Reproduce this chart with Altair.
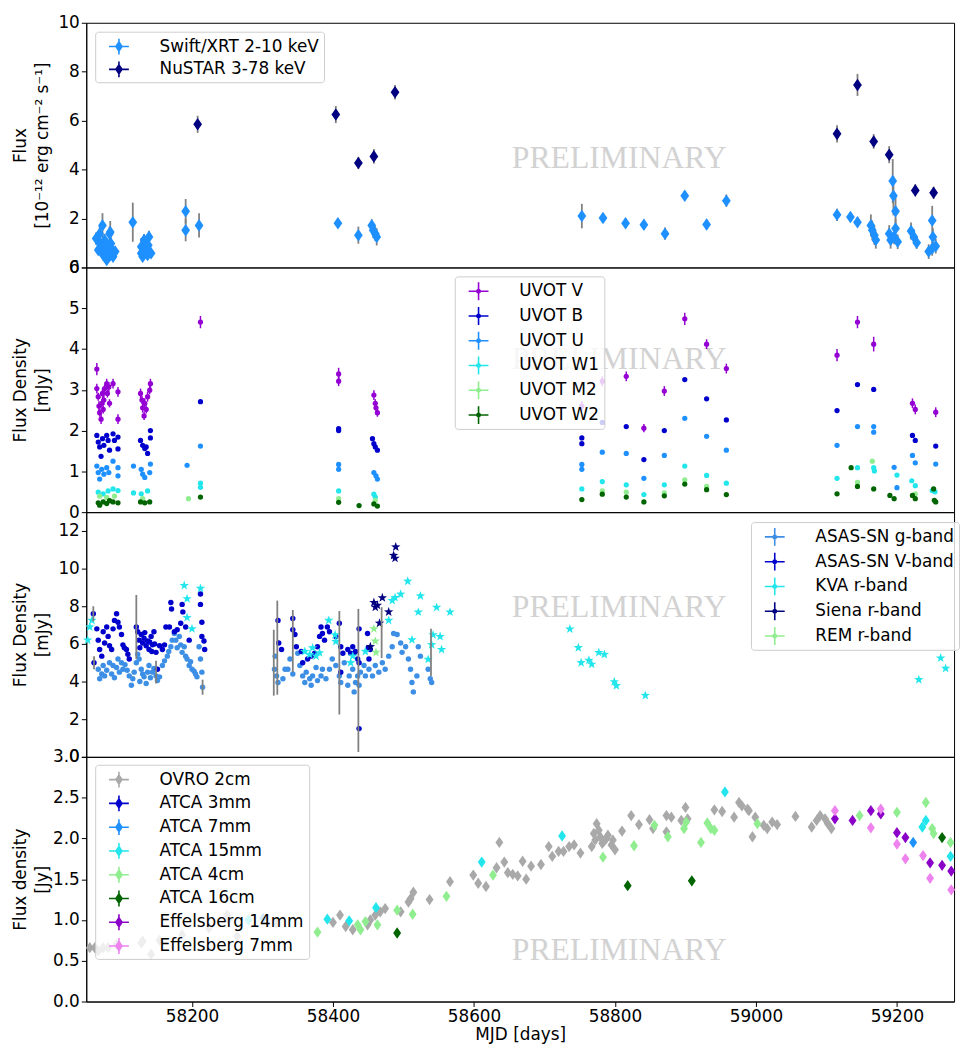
import altair as alt
import pandas as pd

# ---------------------------------------------------------------- data
# Panel 1: X-ray flux  [MJD, flux, error]
swift_xrt = [
    [58064, 1.18, 0.25], [58067, 0.71, 0.2], [58069, 1.38, 0.3], [58069, 0.98, 0.25], [58071, 0.85, 0.2],
    [58073, 1.72, 0.5], [58074, 0.51, 0.2], [58076, 1.12, 0.25], [58077, 0.65, 0.2], [58079, 0.31, 0.15],
    [58081, 0.85, 0.25], [58083, 1.38, 0.3], [58084, 0.51, 0.2], [58084, 1.45, 0.45], [58085, 0.98, 0.25],
    [58086, 0.74, 0.2], [58088, 0.44, 0.2], [58089, 0.58, 0.2], [58091, 0.65, 0.2],
    [58116, 1.85, 0.8],
    [58128, 0.85, 0.35], [58128, 0.58, 0.2], [58130, 0.44, 0.2], [58132, 1.12, 0.25], [58135, 0.71, 0.2],
    [58137, 0.51, 0.2], [58138, 0.91, 0.3], [58139, 1.25, 0.25], [58142, 0.58, 0.2],
    [58191, 2.30, 0.5], [58191, 1.52, 0.45], [58210, 1.72, 0.5],
    [58407, 1.81, 0.2], [58436, 1.32, 0.35], [58455, 1.72, 0.25], [58457, 1.52, 0.3], [58460, 1.38, 0.3],
    [58462, 1.25, 0.35],
    [58753, 2.10, 0.5], [58783, 2.02, 0.2], [58815, 1.81, 0.2], [58841, 1.75, 0.2], [58871, 1.38, 0.25],
    [58899, 2.93, 0.2], [58930, 1.76, 0.2], [58958, 2.73, 0.25],
    [59115, 2.15, 0.25], [59134, 2.06, 0.2], [59144, 1.85, 0.2], [59163, 1.72, 0.45], [59165, 1.52, 0.4],
    [59168, 1.32, 0.4], [59170, 1.12, 0.35], [59189, 1.38, 0.35], [59191, 1.12, 0.35], [59194, 3.53, 0.9],
    [59195, 2.93, 0.8], [59196, 1.25, 0.3], [59198, 2.30, 0.6], [59198, 1.59, 0.4], [59201, 1.05, 0.3],
    [59220, 1.49, 0.35], [59224, 1.25, 0.3], [59228, 1.01, 0.25], [59245, 0.65, 0.3], [59250, 1.92, 0.6],
    [59250, 0.78, 0.3], [59251, 1.25, 0.35], [59255, 0.87, 0.3],
]
nustar = [
    [58208, 5.85, 0.35], [58404, 6.25, 0.35], [58436, 4.27, 0.25], [58458, 4.54, 0.3], [58488, 7.16, 0.3],
    [59115, 5.46, 0.35], [59144, 7.46, 0.45], [59167, 5.15, 0.3], [59189, 4.61, 0.35], [59226, 3.15, 0.25],
    [59252, 3.05, 0.25],
]

# Panel 2: UVOT flux density [MJD, mJy] (V with error)
uvot_v = [
    [58065, 3.51, 0.15], [58065, 3.03, 0.12], [58067, 2.83, 0.1], [58068, 2.60, 0.12], [58069, 2.44, 0.1],
    [58071, 2.28, 0.12], [58072, 2.67, 0.1], [58073, 2.91, 0.12], [58074, 2.52, 0.1], [58075, 2.75, 0.12],
    [58076, 3.03, 0.1], [58079, 3.15, 0.12], [58080, 2.91, 0.1], [58082, 3.07, 0.12], [58083, 2.67, 0.1],
    [58088, 3.15, 0.12], [58095, 2.95, 0.12], [58095, 2.28, 0.12], [58127, 2.91, 0.12], [58129, 2.75, 0.1],
    [58130, 2.56, 0.12], [58132, 2.36, 0.1], [58133, 2.67, 0.12], [58135, 2.52, 0.1], [58137, 2.83, 0.12],
    [58140, 2.99, 0.1], [58141, 3.15, 0.12], [58212, 4.66, 0.15], [58408, 3.39, 0.15], [58408, 3.21, 0.12],
    [58458, 2.87, 0.12], [58460, 2.67, 0.1], [58461, 2.56, 0.12], [58463, 2.44, 0.1], [58753, 2.60, 0.12],
    [58782, 3.21, 0.12], [58816, 3.33, 0.12], [58841, 2.06, 0.1], [58870, 2.97, 0.12], [58899, 4.74, 0.15],
    [58930, 4.12, 0.12], [58958, 3.52, 0.12], [59115, 3.85, 0.15], [59144, 4.66, 0.15], [59167, 4.12, 0.18],
    [59222, 2.67, 0.12], [59226, 2.52, 0.12], [59255, 2.45, 0.12],
]
uvot_b = [
    [58065, 1.88], [58067, 1.72], [58069, 1.60], [58071, 1.37], [58073, 1.80], [58075, 1.64], [58079, 1.88],
    [58081, 1.76], [58083, 1.52], [58088, 1.92], [58090, 1.76], [58095, 1.84], [58095, 1.55], [58127, 1.76],
    [58130, 1.64], [58133, 1.56], [58135, 1.60], [58137, 1.44], [58141, 2.00], [58141, 1.82], [58212, 2.71],
    [58408, 2.00], [58408, 2.05], [58456, 1.80], [58458, 1.68], [58460, 1.60], [58463, 1.52], [58753, 1.82],
    [58753, 1.68], [58782, 2.20], [58816, 2.10], [58841, 1.29], [58870, 2.00], [58899, 3.25], [58930, 2.78],
    [58958, 2.26], [59115, 2.49], [59144, 3.13], [59167, 3.01], [59222, 1.88], [59226, 1.76], [59255, 1.62],
]
uvot_u = [
    [58065, 1.13], [58067, 0.97], [58069, 0.81], [58072, 1.05], [58075, 0.93], [58079, 1.09], [58082, 0.97],
    [58088, 1.25], [58095, 1.09], [58095, 0.89], [58117, 1.13], [58128, 1.05], [58130, 0.93], [58133, 0.85],
    [58140, 0.97], [58141, 1.18], [58193, 1.15], [58212, 1.62], [58408, 1.17], [58408, 1.05], [58458, 0.97],
    [58461, 0.89], [58463, 0.81], [58753, 1.17], [58753, 1.05], [58782, 1.47], [58816, 1.44], [58841, 0.83],
    [58870, 1.39], [58899, 2.30], [58930, 1.86], [58958, 1.52], [59115, 1.64], [59144, 2.10], [59167, 2.10],
    [59167, 1.96], [59196, 1.10], [59200, 0.60], [59222, 1.39], [59226, 1.21], [59255, 1.18],
]
uvot_w1 = [
    [58067, 0.49], [58074, 0.45], [58081, 0.52], [58088, 0.57], [58095, 0.53], [58117, 0.47], [58128, 0.45],
    [58137, 0.52], [58212, 0.71], [58212, 0.61], [58408, 0.52], [58458, 0.44], [58460, 0.37], [58753, 0.57],
    [58782, 0.75], [58816, 0.67], [58841, 0.43], [58870, 0.67], [58899, 1.13], [58930, 0.90], [58958, 0.71],
    [59115, 0.83], [59144, 1.09], [59167, 1.09], [59168, 1.01], [59200, 0.91], [59221, 0.77], [59226, 0.65],
    [59250, 0.53], [59254, 0.50],
]
uvot_m2 = [
    [58069, 0.39], [58079, 0.36], [58090, 0.39], [58130, 0.33], [58195, 0.33], [58408, 0.33], [58460, 0.29],
    [58782, 0.52], [58816, 0.49], [58870, 0.47], [58899, 0.79], [58930, 0.63], [59144, 0.73], [59165, 1.25],
    [59226, 0.45],
]
uvot_w2 = [
    [58067, 0.23], [58069, 0.17], [58074, 0.25], [58079, 0.21], [58083, 0.28], [58088, 0.25], [58095, 0.23],
    [58127, 0.25], [58133, 0.23], [58140, 0.25], [58212, 0.37], [58408, 0.24], [58437, 0.16], [58458, 0.20],
    [58463, 0.15], [58753, 0.31], [58782, 0.44], [58816, 0.37], [58841, 0.25], [58870, 0.40], [58899, 0.69],
    [58930, 0.55], [58958, 0.43], [59115, 0.45], [59135, 1.09], [59144, 0.63], [59167, 0.57], [59190, 0.41],
    [59196, 0.33], [59222, 0.41], [59226, 0.33], [59252, 0.57], [59253, 0.29], [59255, 0.25],
]

# Panel 3: optical flux density [MJD, mJy]
asassn_g = [
    [58067, 4.65], [58069, 4.15], [58072, 4.4], [58074, 4.85], [58076, 4.3], [58079, 4.6], [58083, 5.0],
    [58086, 4.4], [58088, 4.85], [58090, 4.2], [58093, 4.75], [58095, 5.2], [58097, 4.5], [58100, 5.0],
    [58102, 4.65], [58105, 4.9], [58108, 4.6], [58111, 4.3], [58114, 3.8], [58116, 4.15], [58118, 4.5],
    [58121, 5.0], [58123, 5.45], [58125, 5.2], [58126, 4.0], [58128, 4.65], [58130, 4.4], [58132, 4.25],
    [58135, 3.9], [58137, 4.5], [58139, 4.85], [58141, 4.2], [58144, 4.5], [58146, 4.7], [58149, 4.3],
    [58151, 4.05], [58154, 4.25], [58158, 4.85], [58161, 5.1], [58165, 5.35], [58167, 5.6], [58170, 5.85],
    [58172, 6.2], [58175, 6.55], [58177, 6.2], [58179, 5.8], [58182, 6.4], [58184, 5.95], [58186, 5.55],
    [58189, 5.85], [58191, 5.35], [58193, 5.2], [58196, 4.85], [58198, 5.05], [58200, 4.65], [58203, 4.55],
    [58205, 4.4], [58207, 4.25], [58210, 5.85], [58212, 5.2], [58214, 4.5], [58215, 3.7],
    [58317, 4.65], [58318, 5.35], [58320, 4.3], [58322, 3.95], [58329, 4.15], [58332, 4.65],
    [58336, 4.65], [58339, 5.2], [58343, 4.4], [58350, 5.5], [58353, 4.85], [58357, 4.3], [58360, 3.95],
    [58362, 4.5], [58367, 4.15], [58369, 3.8], [58371, 4.3], [58376, 4.75], [58378, 4.05], [58383, 4.3],
    [58385, 4.65], [58390, 4.15], [58395, 4.65], [58399, 5.2], [58404, 4.85], [58409, 4.3], [58411, 3.95],
    [58416, 5.0], [58421, 3.8], [58423, 4.3], [58428, 4.65], [58430, 3.45], [58432, 3.95], [58435, 4.3],
    [58437, 3.8], [58439, 4.5], [58444, 4.85], [58446, 4.3], [58451, 4.65], [58456, 4.3], [58460, 4.85],
    [58465, 4.5], [58470, 5.0], [58474, 4.65], [58479, 5.35], [58484, 5.85], [58486, 6.55], [58491, 6.5],
    [58496, 6.05], [58498, 5.55], [58503, 5.85], [58507, 5.2], [58510, 4.65], [58512, 3.95], [58514, 3.45],
    [58519, 4.3], [58521, 5.85], [58524, 5.35], [58535, 4.65], [58538, 4.15], [58540, 3.95],
]
asassn_v = [
    [58060, 7.6], [58061, 5.0], [58065, 6.8], [58067, 6.2], [58069, 5.7], [58072, 5.35], [58074, 6.65],
    [58076, 6.05], [58079, 6.9], [58081, 6.4], [58083, 5.9], [58086, 5.7], [58088, 6.8], [58090, 7.25],
    [58093, 7.6], [58095, 7.15], [58097, 6.9], [58100, 6.5], [58102, 5.95], [58104, 5.8], [58107, 5.7],
    [58109, 5.45], [58111, 5.2], [58121, 6.9], [58123, 6.65], [58125, 6.2], [58126, 5.8], [58128, 6.5],
    [58130, 6.05], [58132, 6.3], [58133, 6.6], [58135, 5.9], [58137, 6.15], [58139, 5.7], [58140, 6.1],
    [58142, 6.4], [58143, 5.6], [58144, 5.95], [58146, 6.65], [58147, 6.0], [58149, 5.55], [58151, 4.65],
    [58154, 5.9], [58158, 5.7], [58161, 5.95], [58163, 6.9], [58168, 6.9], [58170, 8.2], [58171, 7.85],
    [58175, 6.65], [58179, 6.75], [58184, 7.1], [58186, 8.1], [58187, 7.7], [58191, 6.9], [58196, 6.2],
    [58212, 8.65], [58212, 8.1], [58214, 7.15], [58214, 6.4], [58217, 6.15], [58218, 5.7],
    [58322, 7.25], [58323, 6.05], [58327, 5.7],
    [58343, 7.35], [58343, 6.75], [58346, 6.5], [58348, 5.85], [58355, 5.6], [58357, 5.0], [58364, 5.2],
    [58369, 5.35], [58374, 5.5], [58378, 5.85], [58381, 6.4], [58383, 6.9], [58385, 6.55], [58388, 6.2],
    [58392, 6.9], [58395, 6.65], [58404, 6.4], [58409, 7.1], [58411, 5.85], [58411, 4.5], [58414, 5.5],
    [58421, 5.7], [58425, 5.5], [58428, 5.85], [58430, 5.5], [58432, 5.6], [58435, 5.2], [58437, 6.8],
    [58437, 5.0], [58437, 1.5], [58449, 6.55], [58450, 5.8], [58451, 5.2], [58453, 5.7],
]
kva_r = [
    [58052, 6.2], [58055, 6.9], [58058, 7.25], [58189, 9.1], [58193, 8.4], [58193, 7.4], [58200, 6.8],
    [58212, 8.95], [58360, 5.6], [58367, 5.44], [58371, 5.79], [58376, 5.35], [58381, 5.53], [58394, 7.25],
    [58403, 6.48], [58404, 6.13], [58425, 5.0], [58428, 5.35], [58446, 5.6], [58479, 7.25], [58484, 8.3],
    [58488, 8.46], [58496, 8.64], [58506, 9.33], [58512, 6.22], [58521, 7.69], [58524, 8.55], [58535, 5.18],
    [58540, 5.96], [58542, 6.48], [58547, 7.94], [58552, 6.39], [58554, 5.7], [58566, 7.69], [58736, 6.79],
    [58748, 5.8], [58752, 5.0], [58763, 5.13], [58767, 4.92], [58777, 5.54], [58785, 5.44], [58799, 3.99],
    [58802, 3.78], [58843, 3.26], [59231, 4.1], [59262, 5.25], [59269, 4.7],
]
siena_r = [
    [58453, 5.85], [58458, 8.2], [58460, 7.95], [58463, 8.05], [58466, 7.1], [58470, 8.45], [58479, 7.7],
    [58486, 10.7], [58488, 10.55], [58489, 11.15],
]
rem_r = [[58458, 6.8], [58460, 6.15], [58461, 5.55]]
# visible (large) ASAS-SN error bars [MJD, value, error]
asassn_errbars = [
    [58060, 7.6, 0.4], [58061, 5.0, 0.35], [58121, 6.9, 1.7], [58149, 4.5, 0.6], [58215, 3.7, 0.4],
    [58316, 5.0, 1.75], [58321, 5.8, 2.5], [58343, 6.15, 1.65], [58409, 5.0, 2.75], [58436, 4.06, 3.8],
    [58469, 6.6, 1.35], [58539, 5.55, 1.25],
]

# Panel 4: radio flux density [MJD, Jy]
ovro_2cm = [
    [58055, 0.66], [58062, 0.66], [58067, 0.62], [58074, 0.66], [58081, 0.66], [58093, 0.70], [58128, 0.72],
    [58130, 0.74], [58142, 0.58], [58154, 0.75], [58186, 0.82], [58224, 0.90], [58250, 1.06], [58252, 1.00],
    [58264, 0.80], [58320, 0.96],
    [58400, 0.97], [58410, 1.06], [58418, 0.92], [58428, 0.88], [58449, 0.94], [58453, 1.00], [58460, 1.06],
    [58467, 1.10], [58474, 1.14], [58496, 1.10], [58507, 1.22], [58510, 1.26], [58514, 1.34], [58537, 1.25],
    [58566, 1.47], [58599, 1.55], [58606, 1.45], [58617, 1.41], [58632, 1.64], [58636, 1.95], [58643, 1.71],
    [58648, 1.58], [58655, 1.56], [58662, 1.54], [58669, 1.72], [58674, 1.50], [58681, 1.66], [58695, 1.68],
    [58706, 1.90], [58711, 1.78], [58720, 1.84], [58727, 1.84], [58735, 1.90], [58742, 1.92], [58751, 1.82],
    [58767, 1.90], [58770, 2.06], [58772, 1.98], [58774, 2.18], [58777, 2.10], [58779, 2.02], [58782, 1.94],
    [58784, 1.96], [58788, 2.00], [58790, 2.04], [58795, 1.92], [58797, 1.98], [58800, 1.86], [58810, 2.09],
    [58823, 2.28], [58834, 2.17], [58849, 2.23], [58854, 2.12], [58873, 2.28], [58880, 2.26], [58873, 2.08],
    [58894, 2.22], [58900, 2.38], [58903, 2.24], [58941, 2.35], [58952, 2.33], [58969, 2.26], [58976, 2.44],
    [58980, 2.40], [58988, 2.36], [58990, 2.34], [58995, 2.02], [58999, 2.26], [59011, 2.16], [59016, 2.12],
    [59023, 2.20], [59030, 2.17], [59056, 2.27], [59079, 2.14], [59086, 2.22], [59091, 2.28], [59098, 2.24],
    [59102, 2.18], [59107, 2.12],
]
atca_3mm = []
atca_7mm = [[58301, 1.02], [59223, 1.95]]
atca_15mm = [
    [58280, 1.00], [58392, 1.01], [58423, 0.99], [58461, 1.15], [58611, 1.71], [58725, 2.03], [58956, 2.57],
    [59236, 2.14], [59241, 2.22], [59276, 1.78],
]
atca_4cm = [
    [58378, 0.85], [58435, 0.94], [58439, 0.88], [58446, 0.98], [58463, 0.94], [58491, 1.12], [58513, 1.07],
    [58561, 1.29], [58627, 1.55], [58783, 1.77], [58827, 1.91], [58856, 2.16], [58875, 2.02], [58898, 2.12],
    [58901, 2.20], [58922, 1.95], [58931, 2.19], [58936, 2.12], [58941, 2.10], [59002, 2.18], [59147, 2.28],
    [59200, 2.32], [59241, 2.44], [59250, 2.12], [59252, 2.06], [59276, 1.95],
]
atca_16cm = [[58491, 0.84], [58818, 1.42], [58909, 1.48], [59264, 2.01]]
effelsberg_14mm = [
    [59112, 2.24], [59137, 2.22], [59163, 2.34], [59177, 2.30], [59200, 2.07], [59212, 2.01], [59247, 1.70],
    [59264, 1.67], [59277, 1.60],
]
effelsberg_7mm = [
    [59112, 2.34], [59163, 2.13], [59177, 2.36], [59200, 1.93], [59212, 1.75], [59237, 1.79], [59247, 1.51],
    [59277, 1.37],
]

# labels / axes
X_DOMAIN = [58050, 59281]
X_TICKS = [58200, 58400, 58600, 58800, 59000, 59200]
WM_X = 58806
WM_Y = [4.48, 3.75, 7.96, 0.63]

P1_NAMES = ["Swift/XRT 2-10 keV", "NuSTAR 3-78 keV"]
P1_COLORS = ["#1e90ff", "#000080"]
P2_NAMES = ["UVOT V", "UVOT B", "UVOT U", "UVOT W1", "UVOT M2", "UVOT W2"]
P2_COLORS = ["#9400d3", "#0000cd", "#1e90ff", "#22e6ec", "#90ee90", "#006400"]
P3_NAMES = ["ASAS-SN g-band", "ASAS-SN V-band", "KVA r-band", "Siena r-band", "REM r-band"]
P3_COLORS = ["#3d8fe6", "#0000cd", "#22e6ec", "#000080", "#90ee90"]
P3_KIND = ["dot", "dot", "star", "star", "star"]
P4_NAMES = ["OVRO 2cm", "ATCA 3mm", "ATCA 7mm", "ATCA 15mm", "ATCA 4cm", "ATCA 16cm",
            "Effelsberg 14mm", "Effelsberg 7mm"]
P4_COLORS = ["#a9a9a9", "#0000cd", "#1e90ff", "#22e6ec", "#90ee90", "#006400", "#8a00c8", "#ee82ee"]

# ---------------------------------------------------------------- styling
W, H = 876, 247
FONT = "DejaVu Sans"
GRAY = "#808080"
THIN_DIAMOND = "M0,-1L0.7,0L0,1L-0.7,0Z"
STAR = ("M0,-1L0.235,-0.324L0.951,-0.309L0.38,0.124L0.588,0.809L0,0.4L-0.588,0.809"
        "L-0.38,0.124L-0.951,-0.309L-0.235,-0.324Z")
LEG_DIAMOND = ("M-1,-0.08L1,-0.08L1,0.08L-1,0.08Z M-0.08,-0.8L0.08,-0.8L0.08,0.8L-0.08,0.8Z "
               "M0,-0.6L0.4,0L0,0.6L-0.4,0Z")
LEG_DOT = ("M-1,-0.08L1,-0.08L1,0.08L-1,0.08Z M-0.08,-0.9L0.08,-0.9L0.08,0.9L-0.08,0.9Z "
           "M0.25,0A0.25,0.25,0,1,1,-0.25,0A0.25,0.25,0,1,1,0.25,0Z")


def frame(rows, name, cols):
    return pd.DataFrame(rows, columns=cols).assign(series=name)


def xch(field="mjd", show=False):
    if show:
        axis = alt.Axis(values=X_TICKS, format="d", title="MJD [days]", labelFlush=False,
                        labelOverlap=False, labelPadding=2, titlePadding=2)
    else:
        axis = None
    return alt.X(f"{field}:Q", scale=alt.Scale(domain=X_DOMAIN, nice=False, zero=False), axis=axis)


def ych(field, domain, ticks, title, fmt):
    return alt.Y(f"{field}:Q", scale=alt.Scale(domain=domain, nice=False, zero=False),
                 axis=alt.Axis(values=ticks, format=fmt, title=title, titleX=-57,
                               labelOverlap=False, labelFlush=False))


def legend(x, y, path, rowpad):
    return alt.Legend(title=None, orient="none", legendX=x, legendY=y, symbolType=path, symbolSize=400,
                      symbolStrokeWidth=0, symbolOffset=9, labelOffset=31, labelFontSize=17,
                      labelFont=FONT, labelColor="black", labelLimit=400, padding=5, rowPadding=rowpad,
                      fillColor="rgba(255,255,255,0.8)", strokeColor="#cccccc", cornerRadius=3)


def watermark(yval, ydef, show_x=False):
    df = pd.DataFrame({"mjd": [WM_X], "val": [yval], "txt": ["PRELIMINARY"]})
    return alt.Chart(df).mark_text(font="Liberation Serif", fontSize=32, color="#d2d2d2",
                                   align="center", baseline="middle").encode(
        x=xch(show=show_x), y=ych("val", **ydef), text="txt:N")


# ---------------------------------------------------------------- panel 1
y1 = dict(domain=[0, 10], ticks=[0, 2, 4, 6, 8, 10], title=["Flux", "[10⁻¹² erg cm⁻² s⁻¹]"], fmt="d")
d1 = pd.concat([frame(swift_xrt, P1_NAMES[0], ["mjd", "val", "err"]),
                frame(nustar, P1_NAMES[1], ["mjd", "val", "err"])], ignore_index=True)
d1["lo"] = d1["val"] - d1["err"]
d1["hi"] = d1["val"] + d1["err"]
p1 = alt.layer(
    watermark(WM_Y[0], y1),
    alt.Chart(d1).mark_rule(color=GRAY, strokeWidth=1.8).encode(x=xch(), y=ych("lo", **y1), y2="hi:Q"),
    alt.Chart(d1).mark_point(filled=True, opacity=1, shape=THIN_DIAMOND, size=160, strokeWidth=0).encode(
        x=xch(), y=ych("val", **y1),
        color=alt.Color("series:N", scale=alt.Scale(domain=P1_NAMES, range=P1_COLORS),
                        legend=legend(9, 9, LEG_DIAMOND, 5))),
).properties(width=W, height=H)

# ---------------------------------------------------------------- panel 2
y2 = dict(domain=[0, 6], ticks=[0, 1, 2, 3, 4, 5, 6], title=["Flux Density", "[mJy]"], fmt="d")
d2 = pd.concat([frame([r[:2] for r in uvot_v], P2_NAMES[0], ["mjd", "val"]),
                frame(uvot_b, P2_NAMES[1], ["mjd", "val"]),
                frame(uvot_u, P2_NAMES[2], ["mjd", "val"]),
                frame(uvot_w1, P2_NAMES[3], ["mjd", "val"]),
                frame(uvot_m2, P2_NAMES[4], ["mjd", "val"]),
                frame(uvot_w2, P2_NAMES[5], ["mjd", "val"])], ignore_index=True)
e2 = frame(uvot_v, P2_NAMES[0], ["mjd", "val", "err"])
e2["lo"] = e2["val"] - e2["err"]
e2["hi"] = e2["val"] + e2["err"]
p2 = alt.layer(
    watermark(WM_Y[1], y2),
    alt.Chart(e2).mark_rule(color=P2_COLORS[0], strokeWidth=1.5).encode(x=xch(), y=ych("lo", **y2), y2="hi:Q"),
    alt.Chart(d2).mark_point(filled=True, opacity=1, shape="circle", size=28, strokeWidth=0).encode(
        x=xch(), y=ych("val", **y2),
        color=alt.Color("series:N", scale=alt.Scale(domain=P2_NAMES, range=P2_COLORS),
                        legend=legend(372, 9, LEG_DOT, 6))),
).properties(width=W, height=H)

# ---------------------------------------------------------------- panel 3
y3 = dict(domain=[0, 13], ticks=[0, 2, 4, 6, 8, 10, 12], title=["Flux Density", "[mJy]"], fmt="d")
d3 = pd.concat([frame(asassn_g, P3_NAMES[0], ["mjd", "val"]),
                frame(asassn_v, P3_NAMES[1], ["mjd", "val"]),
                frame(kva_r, P3_NAMES[2], ["mjd", "val"]),
                frame(siena_r, P3_NAMES[3], ["mjd", "val"]),
                frame(rem_r, P3_NAMES[4], ["mjd", "val"])], ignore_index=True)
d3["kind"] = d3["series"].map(dict(zip(P3_NAMES, P3_KIND)))
e3 = pd.DataFrame(asassn_errbars, columns=["mjd", "val", "err"])
e3["lo"] = e3["val"] - e3["err"]
e3["hi"] = e3["val"] + e3["err"]
p3 = alt.layer(
    watermark(WM_Y[2], y3),
    alt.Chart(d3).mark_point(filled=True, opacity=1, strokeWidth=0).encode(
        x=xch(), y=ych("val", **y3),
        color=alt.Color("series:N", scale=alt.Scale(domain=P3_NAMES, range=P3_COLORS),
                        legend=legend(671, 10, LEG_DOT, 6)),
        shape=alt.Shape("kind:N", scale=alt.Scale(domain=["dot", "star"], range=["circle", STAR]),
                        legend=None),
        size=alt.Size("kind:N", scale=alt.Scale(domain=["dot", "star"], range=[30, 100]), legend=None)),
    alt.Chart(e3).mark_rule(color=GRAY, strokeWidth=1.8).encode(x=xch(), y=ych("lo", **y3), y2="hi:Q"),
).properties(width=W, height=H)

# ---------------------------------------------------------------- panel 4
y4 = dict(domain=[0, 3], ticks=[0, 0.5, 1, 1.5, 2, 2.5, 3], title=["Flux density", "[Jy]"], fmt=".1f")
radio = [ovro_2cm, atca_3mm, atca_7mm, atca_15mm, atca_4cm, atca_16cm, effelsberg_14mm, effelsberg_7mm]
d4 = pd.concat([frame(rows, name, ["mjd", "val"]) for rows, name in zip(radio, P4_NAMES)],
               ignore_index=True)
p4 = alt.layer(
    watermark(WM_Y[3], y4, show_x=True),
    alt.Chart(d4).mark_point(filled=True, opacity=1, shape=THIN_DIAMOND, size=130, strokeWidth=0).encode(
        x=xch(show=True), y=ych("val", **y4),
        color=alt.Color("series:N", scale=alt.Scale(domain=P4_NAMES, range=P4_COLORS),
                        legend=legend(9, 8, LEG_DIAMOND, 6))),
).properties(width=W, height=H)

chart = alt.vconcat(p1, p2, p3, p4, spacing=0, bounds="flush").resolve_scale(
    x="independent", y="independent", color="independent", shape="independent", size="independent"
).resolve_legend(color="independent").properties(
    padding={"left": 3, "top": 0, "right": 0, "bottom": 0}
).configure(font=FONT).configure_view(stroke="black", strokeWidth=1).configure_axis(
    labelFontSize=17, titleFontSize=17, labelColor="black", titleColor="black", tickColor="black",
    domainColor="black", tickSize=5, grid=False, titleFontWeight="normal", labelFont=FONT, titleFont=FONT,
    titleLineHeight=22, domainWidth=1, tickWidth=1)

chart.save("out.html", embed_options={"renderer": "svg", "actions": False})
